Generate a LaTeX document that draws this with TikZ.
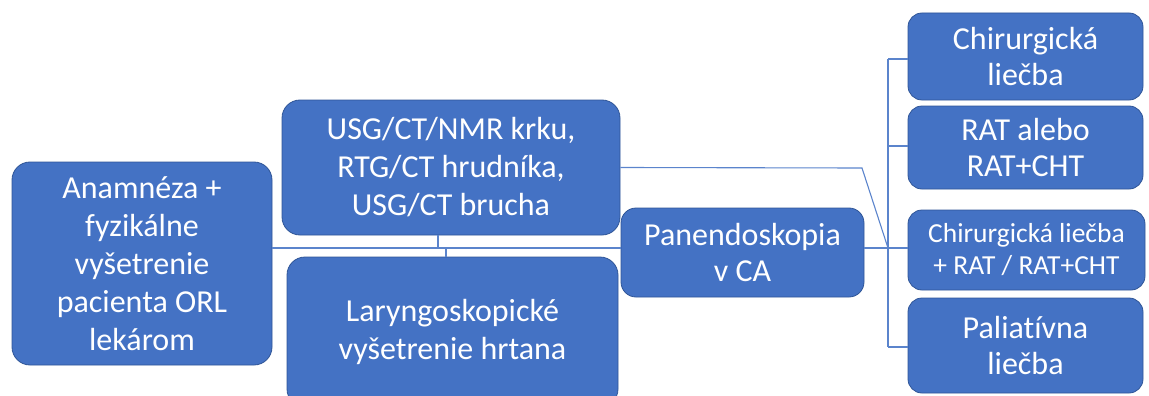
\documentclass[tikz,border=0pt]{standalone}
\usepackage{fontspec}
\setmainfont[Ligatures=NoCommon]{Carlito}
\usepackage{tikz}
\usepackage{xcolor}
\definecolor{boxblue}{HTML}{4472C4}
\definecolor{rimblue}{HTML}{2F5597}
\definecolor{wireblue}{HTML}{5B84CC}

\begin{document}
\begin{tikzpicture}[x=1pt,y=-1pt,
	box/.style={draw=rimblue,line width=0.8pt,fill=boxblue,rounded corners=18pt,text=white,align=center,inner sep=0pt,font=\fontsize{32}{38}\selectfont},
	smallbox/.style={box,rounded corners=14pt,font=\fontsize{27.5}{32}\selectfont},
	wire/.style={draw=wireblue,line width=1.1pt}]

	\useasboundingbox (0,0) rectangle (1149,396);
	\clip (0,0) rectangle (1149,396);

	\node[box,minimum width=260pt,minimum height=203pt] (anam) at (142,263.5) {Anamnéza +\\fyzikálne\\vyšetrenie\\pacienta ORL\\lekárom};
	\node[box,minimum width=338pt,minimum height=135pt] (usg) at (451,167.5) {USG/CT/NMR krku,\\RTG/CT hrudníka,\\USG/CT brucha};
	\node[box,minimum width=331pt,minimum height=150pt] (laryn) at (452.5,332) {Laryngoskopické\\vyšetrenie hrtana};
	\node[box,rounded corners=15pt,minimum width=243pt,minimum height=89pt,font=\fontsize{32}{36}\selectfont] (pan) at (742.5,252.5) {Panendoskopia\\v CA};

	\node[box,rounded corners=14pt,minimum width=235pt,minimum height=87pt,font=\fontsize{32}{36}\selectfont] (chir) at (1025.5,56.5) {Chirurgická\\liečba};
	\node[box,rounded corners=14pt,minimum width=235pt,minimum height=83pt,font=\fontsize{32}{36}\selectfont] (rat) at (1025.5,147.5) {RAT alebo\\RAT+CHT};
	\node[smallbox,minimum width=237pt,minimum height=80pt] (chirrat) at (1026.5,250) {Chirurgická liečba\\+ RAT / RAT+CHT};
	\node[box,rounded corners=14pt,minimum width=235pt,minimum height=95pt,font=\fontsize{32}{36}\selectfont] (pal) at (1025.5,345.5) {Paliatívna\\liečba};

	\coordinate (trunk) at (438,248);
	\coordinate (lartick) at (446,248);
	\coordinate (hub) at (888,248);
	\coordinate (top) at (888,59);
	\coordinate (second) at (888,146);
	\coordinate (bottom) at (888,347);
	\coordinate (kink) at (862,168);

	\draw[wire] (anam.east |- trunk) -- (pan.west |- trunk);
	\draw[wire] (usg.south -| trunk) -- (trunk);
	\draw[wire] (lartick) -- (laryn.north -| lartick);

	\draw[wire] (pan.east |- hub) -- (chirrat.west |- hub);
	\draw[wire] (top) -- (bottom);
	\draw[wire] (top) -- (chir.west |- top);
	\draw[wire] (second) -- (rat.west |- second);
	\draw[wire] (bottom) -- (pal.west |- bottom);
	\draw[wire] (usg.east) -- (kink) -- (hub);

\end{tikzpicture}
\end{document}
